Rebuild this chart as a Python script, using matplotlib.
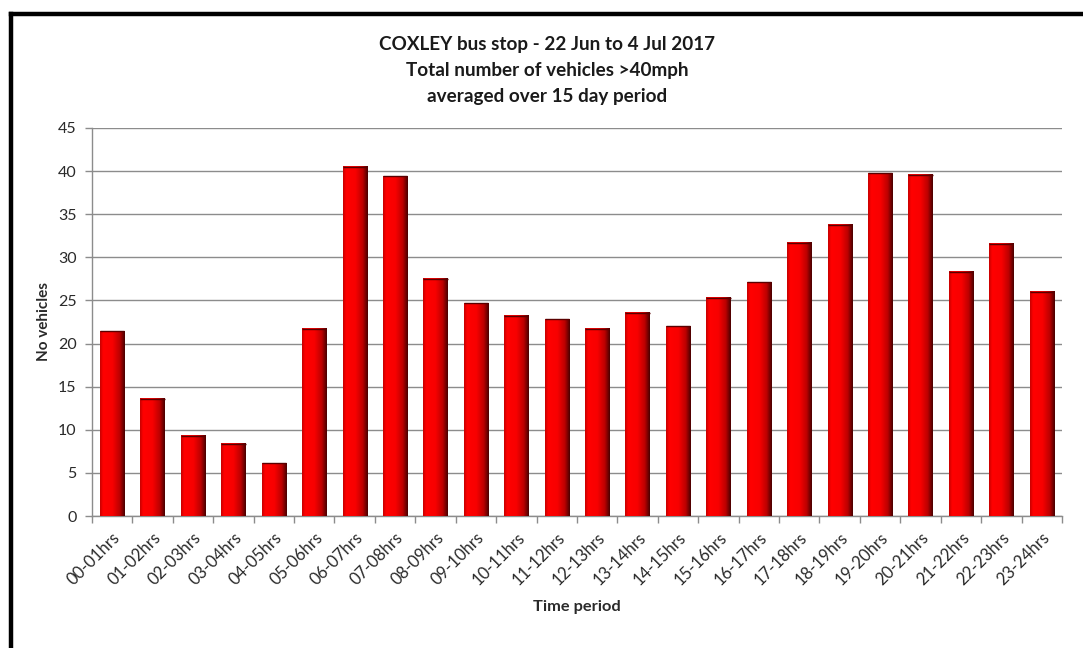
"""
COXLEY bus stop speed survey: vehicles >40mph per hour slot, averaged over 15 days.
Excel-2007 style red gradient bars.
"""
import numpy as np
import matplotlib
matplotlib.use("Agg")
import matplotlib.pyplot as plt
from matplotlib.colors import LinearSegmentedColormap

plt.rcParams["font.family"] = ["Lato", "DejaVu Sans"]

periods = ["00-01hrs", "01-02hrs", "02-03hrs", "03-04hrs", "04-05hrs", "05-06hrs",
           "06-07hrs", "07-08hrs", "08-09hrs", "09-10hrs", "10-11hrs", "11-12hrs",
           "12-13hrs", "13-14hrs", "14-15hrs", "15-16hrs", "16-17hrs", "17-18hrs",
           "18-19hrs", "19-20hrs", "20-21hrs", "21-22hrs", "22-23hrs", "23-24hrs"]
vehicles = [21.4, 13.6, 9.3, 8.4, 6.1, 21.7,
            40.5, 39.4, 27.5, 24.7, 23.2, 22.8,
            21.7, 23.6, 22.0, 25.3, 27.1, 31.7,
            33.8, 39.75, 39.6, 28.3, 31.6, 26.0]
yticks = [0, 5, 10, 15, 20, 25, 30, 35, 40, 45]

title = ("COXLEY bus stop - 22 Jun to 4 Jul 2017\n"
         "Total number of vehicles >40mph\n"
         "averaged over 15 day period")

GRID = "#8c8c8c"
TXT = "#2a2a2a"
BAR_W = 0.6

# horizontal shading across each bar: dim left edge, bright body, dark right edge
shade = LinearSegmentedColormap.from_list(
    "xlbar", [(0.0, "#c80000"), (0.12, "#ff0000"), (0.5, "#f80000"),
              (0.8, "#bb0000"), (1.0, "#4a0000")])
grad = np.linspace(0, 1, 64).reshape(1, -1)

fig = plt.figure(figsize=(10.83, 6.48), dpi=100)
ax = fig.add_axes([0.0849, 0.2037, 0.8957, 0.5988])

x = np.arange(len(periods))
bars = ax.bar(x, vehicles, width=BAR_W, color="#ff0000", edgecolor="none", zorder=2)
for b in bars:
    x0, w, h = b.get_x(), b.get_width(), b.get_height()
    ax.imshow(grad, cmap=shade, aspect="auto", extent=(x0, x0 + w, 0, h),
              interpolation="bilinear", zorder=3)
    ax.plot([x0, x0 + w], [h, h], color="#5a0000", lw=1.0, zorder=4,
            solid_capstyle="butt")

ax.set_xlim(-0.5, len(periods) - 0.5)
ax.set_ylim(0, 45)
ax.set_yticks(yticks)
ax.yaxis.grid(True, color=GRID, lw=1.0, zorder=0)
ax.set_axisbelow(True)

ax.set_xticks(x)
ax.set_xticklabels(periods, rotation=45, ha="right", rotation_mode="anchor",
                   fontsize=12, color=TXT)
ax.set_xticks(np.arange(-0.5, len(periods) + 0.5, 1), minor=True)
ax.tick_params(axis="x", which="major", length=0, pad=10)
ax.tick_params(axis="x", which="minor", length=5, color=GRID, width=1)
ax.tick_params(axis="y", length=5, color=GRID, width=1, pad=6,
               labelsize=11.5, labelcolor=TXT)

for s in ("top", "right"):
    ax.spines[s].set_visible(False)
for s in ("left", "bottom"):
    ax.spines[s].set_color(GRID)
    ax.spines[s].set_linewidth(1.0)

ax.set_ylabel("No vehicles", fontsize=11, fontweight="bold", color=TXT, labelpad=5)
ax.set_xlabel("Time period", fontsize=11.8, fontweight="bold", color=TXT, va="center")
ax.xaxis.set_label_coords(0.5, -0.235)
fig.text(0.505, 0.944, title, ha="center", va="top", fontsize=13.6,
         fontweight="bold", color="#1a1a1a", linespacing=1.62)

# thick black frame, only top and left edges visible in the original crop
fig.add_artist(plt.Line2D([11 / 1083, 1.0], [1 - 13.5 / 648] * 2,
                          color="black", lw=3.2, transform=fig.transFigure))
fig.add_artist(plt.Line2D([11 / 1083] * 2, [0.0, 1 - 13.5 / 648],
                          color="black", lw=3.2, transform=fig.transFigure))

fig.savefig("out.png", dpi=100)
